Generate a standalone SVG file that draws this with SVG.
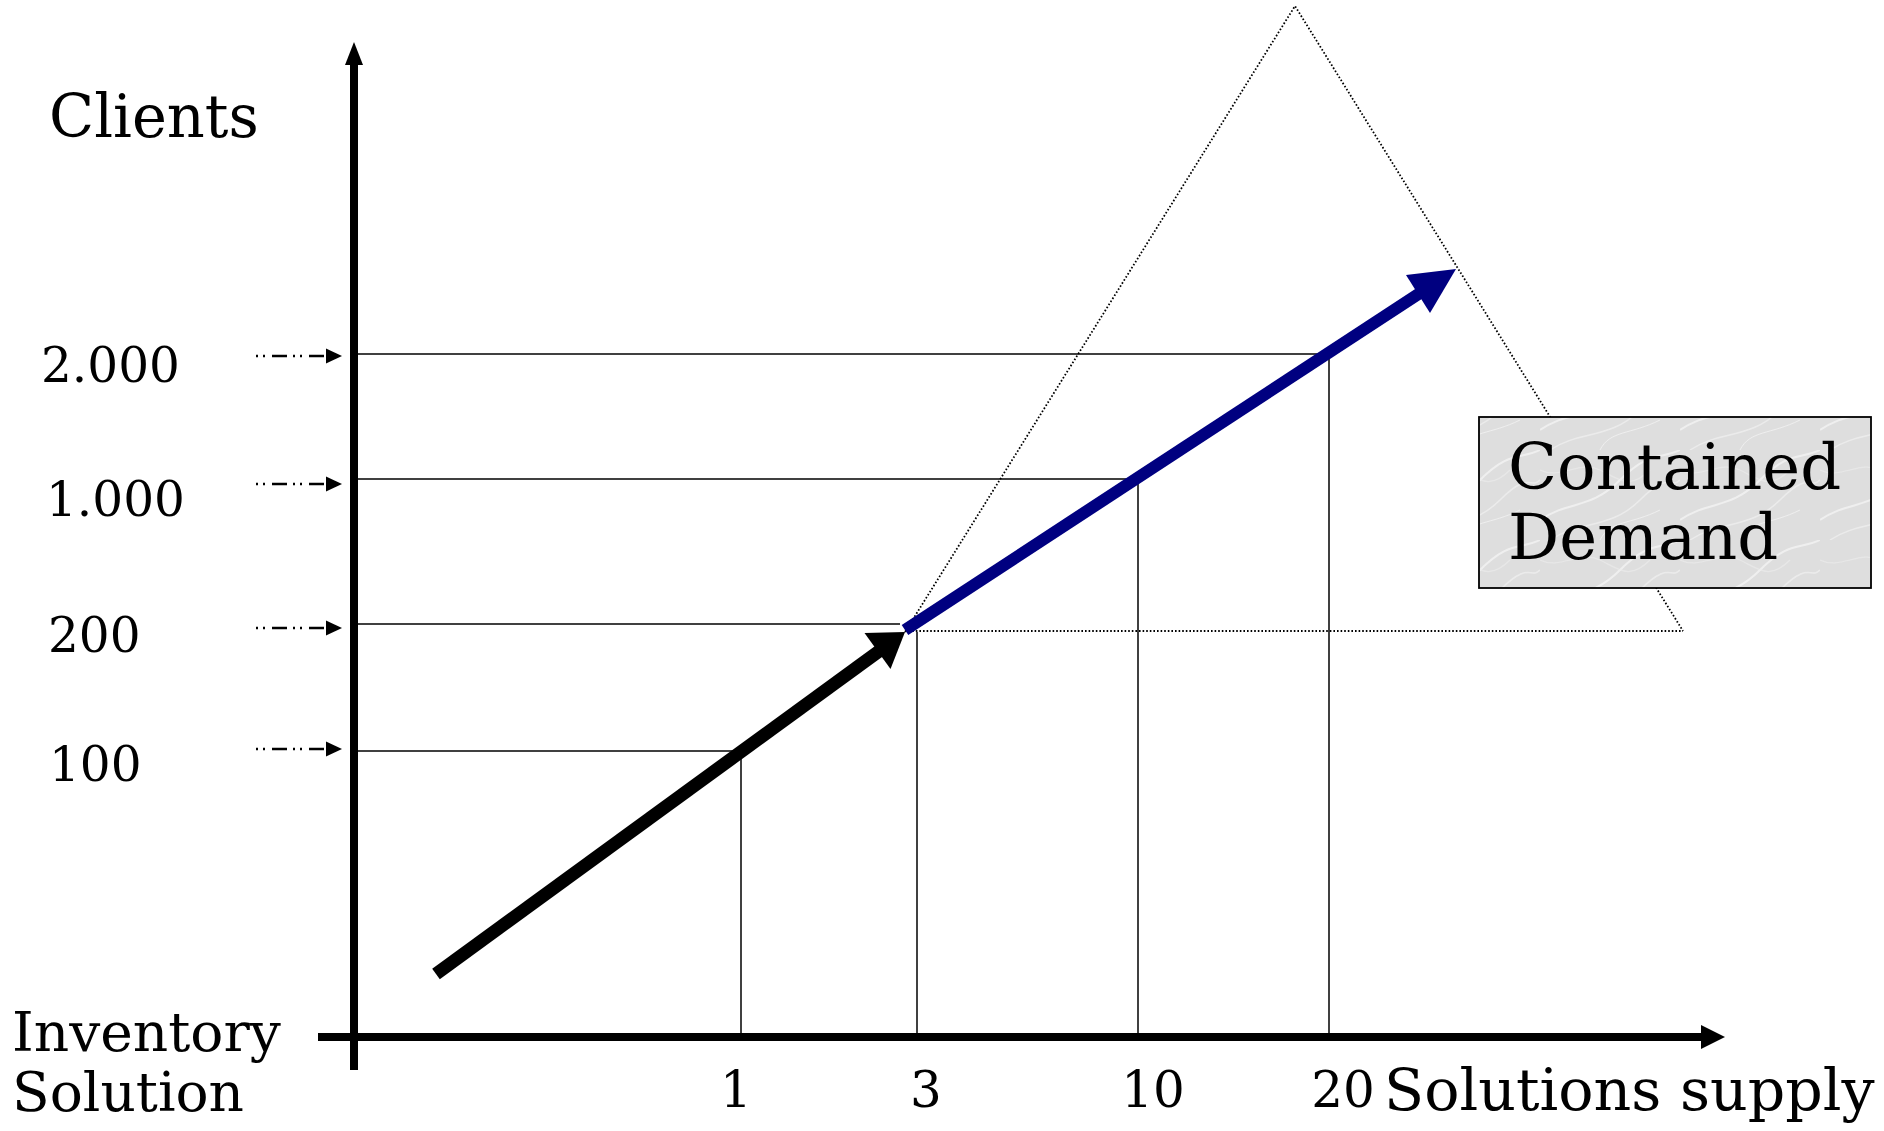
<svg xmlns="http://www.w3.org/2000/svg" width="1884" height="1131" viewBox="0 0 1884 1131">
  <defs>
    <style>
      .t { font-family: "DejaVu Serif", "Liberation Serif", serif; fill: #000; }
      .grid { stroke: #000; stroke-width: 1.5; fill: none; }
      .dotted { stroke: #000; stroke-width: 1.8; fill: none; stroke-dasharray: 1.6 2; }
      .dd { stroke: #000; stroke-width: 2.5; fill: none; stroke-dasharray: 2 5 2 7 15 6; }
      .axis { stroke: #000; stroke-width: 8; fill: none; }
    </style>
    <pattern id="marble" patternUnits="userSpaceOnUse" width="140" height="90">
      <rect width="140" height="90" fill="#dedede"/>
      <path d="M0 70 C30 50 50 60 80 30 S120 10 140 0" stroke="#f4f4f4" stroke-width="2" fill="none" opacity="0.8"/>
      <path d="M10 90 C40 70 70 80 100 50 S130 40 140 30" stroke="#efefef" stroke-width="1.5" fill="none" opacity="0.8"/>
      <path d="M0 20 C20 30 40 10 60 20 S90 40 110 20" stroke="#ebebeb" stroke-width="1.2" fill="none" opacity="0.7"/>
      <path d="M60 90 C70 70 90 75 120 60" stroke="#f6f6f6" stroke-width="1" fill="none" opacity="0.7"/>
    </pattern>
  </defs>

  <g id="connectors">
    <!-- grid lines -->
    <line class="grid" x1="357" y1="354" x2="1329" y2="354"/>
    <line class="grid" x1="357" y1="479" x2="1138" y2="479"/>
    <line class="grid" x1="357" y1="624" x2="900" y2="624"/>
    <line class="grid" x1="357" y1="751" x2="741" y2="751"/>
    <line class="grid" x1="741" y1="751" x2="741" y2="1036"/>
    <line class="grid" x1="917" y1="632" x2="917" y2="1036"/>
    <line class="grid" x1="1138" y1="479" x2="1138" y2="1036"/>
    <line class="grid" x1="1329" y1="354" x2="1329" y2="1036"/>

    <!-- triangle (contained demand) -->
    <polyline class="dotted" points="905,632 1295,6 1683,631"/>
    <line class="dotted" x1="905" y1="631" x2="1683" y2="631" stroke-width="2.2"/>

    <!-- axes -->
    <line class="axis" x1="354" y1="1070" x2="354" y2="60" stroke-width="7.5"/>
    <polygon points="354,42 345,65 363,65" fill="#000"/>
    <line class="axis" x1="318" y1="1037" x2="1705" y2="1037" stroke-width="8.5"/>
    <polygon points="1725,1037 1701,1025 1701,1049" fill="#000"/>

    <!-- dash-dot pointers -->
    <line class="dd" x1="256" y1="356" x2="327" y2="356"/>
    <polygon points="342,356 326,348.5 326,363.5" fill="#000"/>
    <line class="dd" x1="256" y1="484" x2="327" y2="484"/>
    <polygon points="342,484 326,476.5 326,491.5" fill="#000"/>
    <line class="dd" x1="256" y1="628" x2="327" y2="628"/>
    <polygon points="342,628 326,620.5 326,635.5" fill="#000"/>
    <line class="dd" x1="256" y1="749" x2="327" y2="749"/>
    <polygon points="342,749 326,741.5 326,756.5" fill="#000"/>

    <!-- black growth arrow -->
    <line x1="436" y1="974" x2="882" y2="649" stroke="#000" stroke-width="13"/>
    <polygon points="905,632 864.5,633 890.5,669" fill="#000"/>

    <!-- blue growth arrow -->
    <line x1="905" y1="630" x2="1420" y2="293" stroke="#000080" stroke-width="12"/>
    <polygon points="1456,269 1406,275 1430,313" fill="#000080"/>
  </g>

  <g id="y-axis-labels">
    <text class="t" x="49" y="137" font-size="59">Clients</text>
    <text class="t" x="41" y="382" font-size="48.5">2.000</text>
    <text class="t" x="46" y="516" font-size="48.5">1.000</text>
    <text class="t" x="48" y="652" font-size="48.5">200</text>
    <text class="t" x="49" y="781" font-size="48.5">100</text>
  </g>

  <g id="x-axis-labels">
    <text class="t" x="12" y="1051" font-size="55">Inventory</text>
    <text class="t" x="12" y="1111" font-size="55">Solution</text>
    <text class="t" x="736" y="1107" font-size="50" text-anchor="middle">1</text>
    <text class="t" x="926" y="1107" font-size="50" text-anchor="middle">3</text>
    <text class="t" x="1153" y="1107" font-size="50" text-anchor="middle">10</text>
    <text class="t" x="1343" y="1107" font-size="50" text-anchor="middle">20</text>
    <text class="t" x="1384" y="1110" font-size="58.6">Solutions supply</text>
  </g>

  <g id="contained-demand">
    <rect x="1479" y="417" width="392" height="171" fill="url(#marble)" stroke="#000" stroke-width="1.8"/>
    <text class="t" x="1508" y="489" font-size="64">Contained</text>
    <text class="t" x="1508" y="559" font-size="64">Demand</text>
  </g>
</svg>
